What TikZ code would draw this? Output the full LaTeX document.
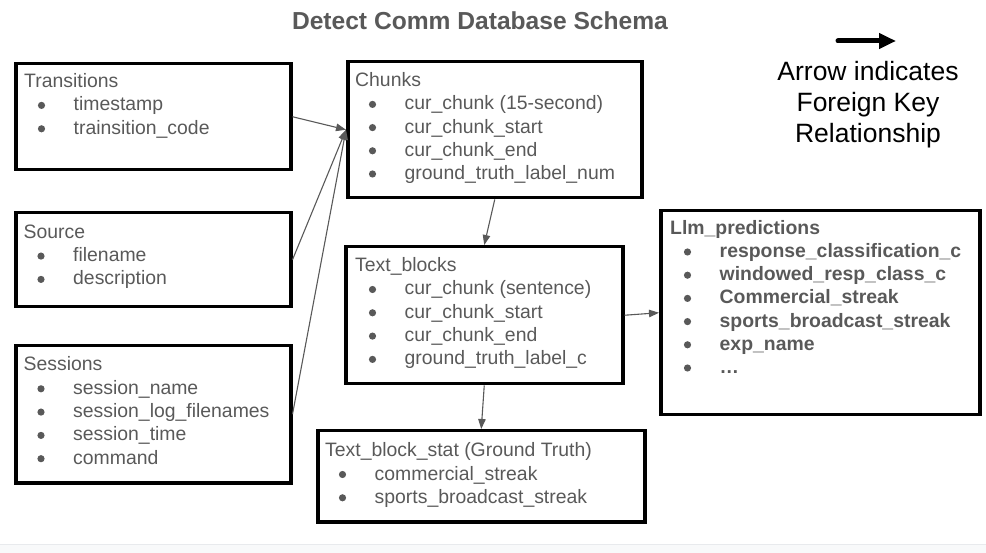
\documentclass[tikz,border=0pt]{standalone}
\usepackage{fontspec}
\setmainfont{Liberation Sans}
\usetikzlibrary{arrows.meta}
\definecolor{txtgrey}{HTML}{595959}
\definecolor{bandfill}{HTML}{F8F9FA}
\definecolor{bandline}{HTML}{E8EAED}
\tikzset{
  box/.style={draw=black, line width=3.5pt, rectangle, inner sep=0pt, anchor=north west},
  txt/.style={text=txtgrey, font=\fontsize{19.4}{23}\selectfont, inner sep=0pt, anchor=base west},
  fk/.style={draw=txtgrey, line width=1.1pt, -{Triangle[length=10pt,width=7.5pt]}},
  legtxt/.style={text=black, font=\fontsize{26.5}{31}\selectfont, inner sep=0pt, anchor=base},
}
\newcommand\fields[7][]{%
  \node[txt,#1] (#2-t) at (#3,#4) {#6};
  \foreach \itm [count=\k] in {#7} {
    \node[txt,#1] (#2-\k) at ({#3+49.5},{#4+\k*#5}) {\itm};
    \fill[txtgrey] ({#3+17.5},{#4+\k*#5-5.5}) circle (3.6pt);
  }
}
\begin{document}
\begin{tikzpicture}[x=1pt,y=-1pt]
\useasboundingbox (0,0) rectangle (986,553);
\fill[bandfill] (0,545) rectangle (986,553);
\draw[bandline, line width=1pt] (0,544.5) -- (986,544.5);

% title
\node[text=txtgrey, font=\bfseries\fontsize{24.6}{28}\selectfont, inner sep=0pt, anchor=base] (title) at (480,30) {Detect Comm Database Schema};

% boxes
\node[box, minimum width=275pt, minimum height=106pt] (trans) at (14,62) {};
\node[box, minimum width=275pt, minimum height=94pt] (source) at (14,211) {};
\node[box, minimum width=275pt, minimum height=137pt] (sessions) at (14,344) {};
\node[box, minimum width=294pt, minimum height=136pt] (chunks) at (346,60) {};
\node[box, minimum width=277pt, minimum height=137pt] (textblocks) at (344,245) {};
\node[box, minimum width=327pt, minimum height=91pt] (stat) at (316,429) {};
\node[box, minimum width=319pt, minimum height=204pt] (llm) at (659,209) {};

% fields
\fields{transf}{24}{87.5}{23.4}{Transitions}{timestamp,trainsition\_code}
\fields{sourcef}{23.5}{238.3}{23.3}{Source}{filename,description}
\fields{sessionsf}{23.5}{371}{23.3}{Sessions}{session\_name,session\_log\_filenames,session\_time,command}
\fields{chunksf}{355}{86.7}{23.2}{Chunks}{cur\_chunk (15-second),cur\_chunk\_start,cur\_chunk\_end,ground\_truth\_label\_num}
\fields{textblocksf}{355}{271.7}{23.3}{Text\_blocks}{cur\_chunk (sentence),cur\_chunk\_start,cur\_chunk\_end,ground\_truth\_label\_c}
\fields{statf}{325}{456.7}{23.3}{Text\_block\_stat (Ground Truth)}{commercial\_streak,sports\_broadcast\_streak}
\fields[font=\fontsize{19.4}{23}\selectfont\bfseries]{llmf}{670}{234.3}{23.2}{Llm\_predictions}{response\_classification\_c,windowed\_resp\_class\_c,Commercial\_streak,sports\_broadcast\_streak,exp\_name,…}

% foreign keys
\draw[fk] (trans.east) -- (chunks.west);
\draw[fk] (source.east) -- (chunks.west);
\draw[fk] (sessions.east) -- (chunks.west);
\draw[fk] (chunks.south) -- (textblocks.north);
\draw[fk] (textblocks.south) -- (stat.north);
\draw[fk] (textblocks.east) -- (llm.west);

% legend
\coordinate (legA) at (838,41);
\coordinate (legB) at (896,41);
\draw[line width=5pt, line cap=round, -{Triangle[length=17pt,width=15pt]}] (legA) -- (legB);
\node[legtxt] (leg1) at (868,81) {Arrow indicates};
\node[legtxt] (leg2) at (868,112) {Foreign Key};
\node[legtxt] (leg3) at (868,143) {Relationship};
\end{tikzpicture}
\end{document}
